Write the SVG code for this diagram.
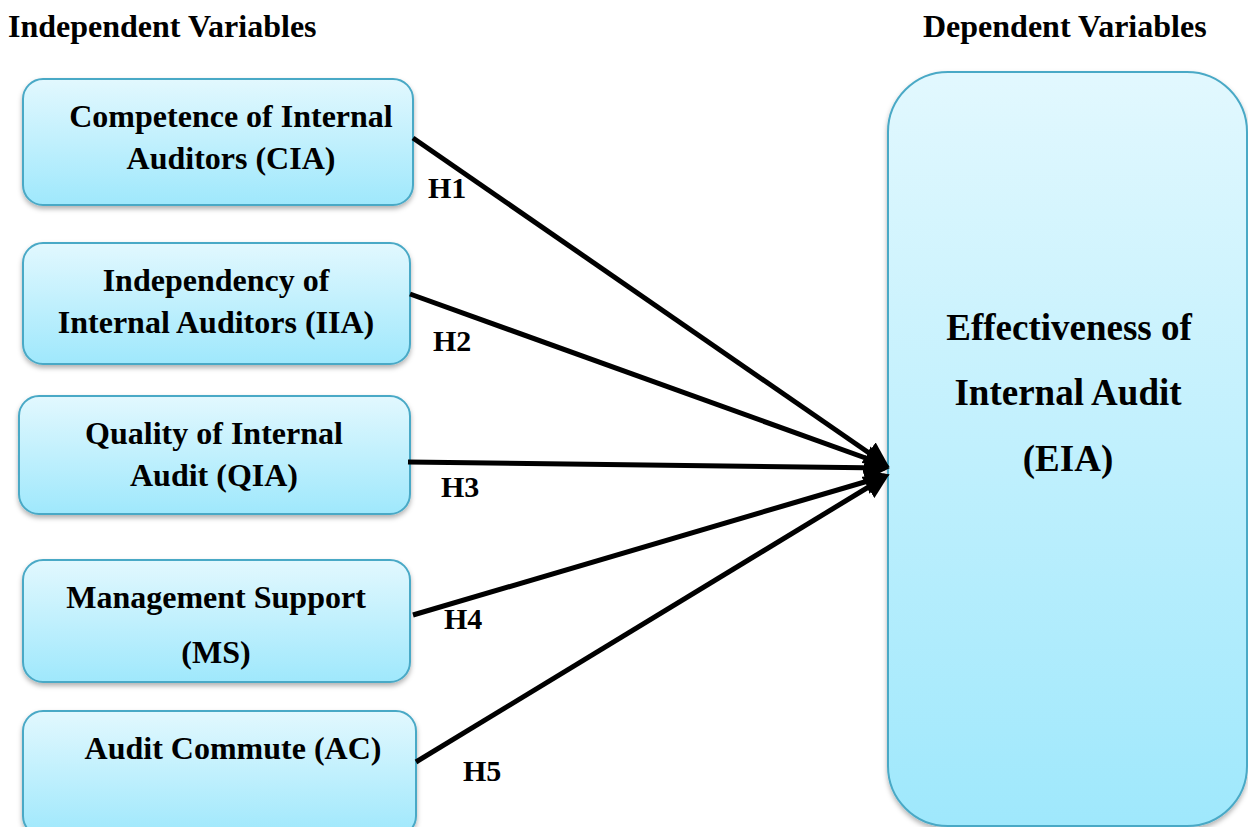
<svg xmlns="http://www.w3.org/2000/svg" width="1248" height="827" viewBox="0 0 1248 827">
<style>
.t{font-family:"Liberation Serif","Times New Roman",serif;font-weight:bold;fill:#000}
.hd{font-size:32px}
.bx{font-size:32px;text-anchor:middle}
.big{font-size:37px;text-anchor:middle}
.lb{font-size:30px}
.box{fill:url(#g);stroke:#4aa9c6;stroke-width:2;filter:url(#sh)}
.ar{stroke:#000;stroke-width:5;fill:none;marker-end:url(#ah)}
</style>
<defs>
<linearGradient id="g" x1="0" y1="0" x2="0" y2="1">
<stop offset="0" stop-color="#e2f8fe"/>
<stop offset="1" stop-color="#9fe8fc"/>
</linearGradient>
<filter id="sh" x="-10%" y="-10%" width="120%" height="130%">
<feDropShadow dx="0" dy="3" stdDeviation="2.5" flood-color="#000" flood-opacity="0.3"/>
</filter>
<marker id="ah" markerWidth="5" markerHeight="5" refX="4" refY="2.5" orient="auto" markerUnits="strokeWidth">
<path d="M0,0 L5,2.5 L0,5 Z" fill="#000"/>
</marker>
</defs>
<rect width="1248" height="827" fill="#fff"/>
<text class="t hd" x="8" y="37">Independent Variables</text>
<text class="t hd" x="923" y="37">Dependent Variables</text>
<g id="node-cia">
<rect class="box" x="23" y="79" width="390" height="126" rx="20"/>
<text class="t bx" x="231" y="127">Competence of Internal</text>
<text class="t bx" x="231" y="169">Auditors (CIA)</text>
</g>
<g id="node-iia">
<rect class="box" x="23" y="243" width="387" height="121" rx="20"/>
<text class="t bx" x="216" y="291">Independency of</text>
<text class="t bx" x="216" y="333">Internal Auditors (IIA)</text>
</g>
<g id="node-qia">
<rect class="box" x="19" y="396" width="391" height="118" rx="20"/>
<text class="t bx" x="214" y="444">Quality of Internal</text>
<text class="t bx" x="214" y="486">Audit (QIA)</text>
</g>
<g id="node-ms">
<rect class="box" x="23" y="560" width="387" height="122" rx="20"/>
<text class="t bx" x="216" y="608">Management Support</text>
<text class="t bx" x="216" y="663">(MS)</text>
</g>
<g id="node-ac">
<rect class="box" x="23" y="711" width="393" height="125" rx="20"/>
<text class="t bx" x="233" y="759">Audit Commute (AC)</text>
</g>
<g id="node-eia">
<rect class="box" x="888" y="72" width="359" height="754" rx="60"/>
<text class="t big" x="1069" y="340">Effectiveness of</text>
<text class="t big" x="1068" y="405">Internal Audit</text>
<text class="t big" x="1068" y="471">(EIA)</text>
</g>
<g id="connectors">
<line class="ar" x1="413" y1="138" x2="885" y2="464"/>
<line class="ar" x1="410" y1="294" x2="885" y2="465"/>
<line class="ar" x1="408" y1="462" x2="885" y2="468"/>
<line class="ar" x1="413" y1="615" x2="885" y2="476"/>
<line class="ar" x1="416" y1="762" x2="885" y2="477"/>
<text class="t lb" x="428" y="198">H1</text>
<text class="t lb" x="433" y="351">H2</text>
<text class="t lb" x="441" y="497">H3</text>
<text class="t lb" x="444" y="629">H4</text>
<text class="t lb" x="463" y="781">H5</text>
</g>
</svg>
